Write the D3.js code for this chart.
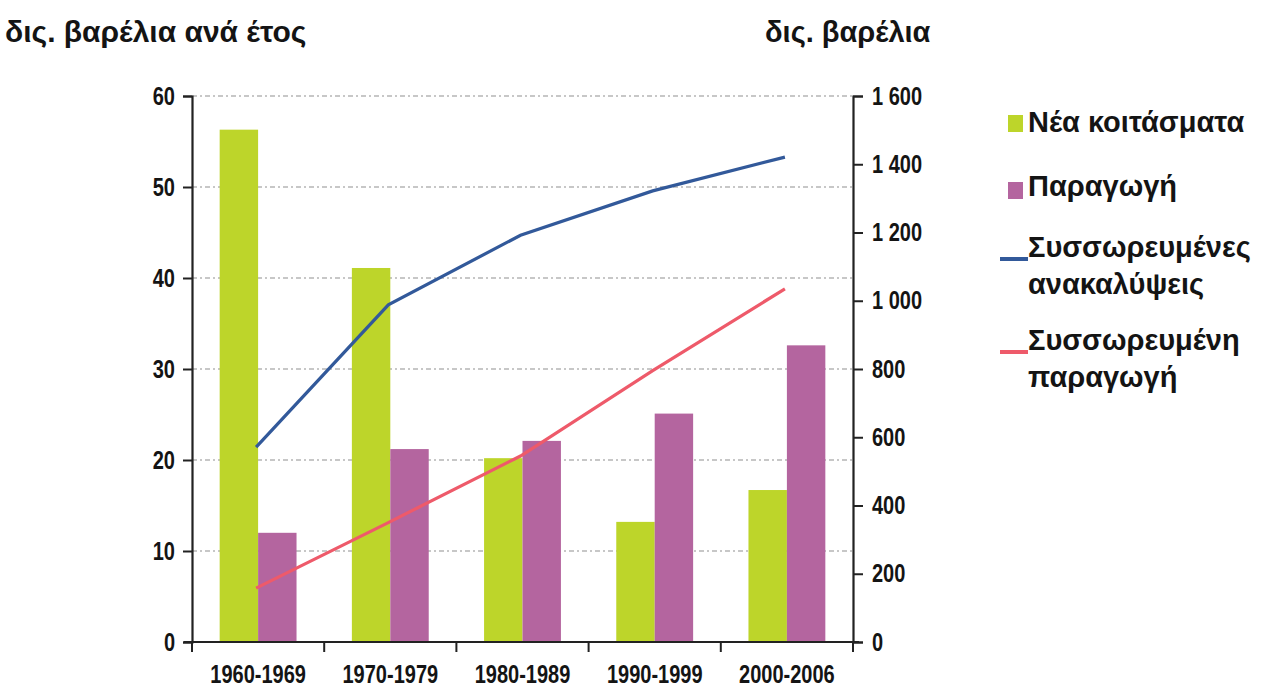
<!DOCTYPE html>
<html>
<head>
<meta charset="utf-8">
<script src="https://cdn.jsdelivr.net/npm/d3@7"></script>
<style>
  body { margin: 0; background: #fff; }
  svg text { font-family: "Liberation Sans", Arial, sans-serif; font-weight: bold; fill: #141414; }
</style>
</head>
<body>
<div id="chart"></div>
<script>
// decades on the x axis
var decades = ["1960-1969", "1970-1979", "1980-1989", "1990-1999", "2000-2006"];
// bars, bn barrels per year (left axis)
var newFields = [56.3, 41.1, 20.2, 13.2, 16.7];
var production = [12.0, 21.2, 22.1, 25.1, 32.6];
// lines, bn barrels (right axis)
var cumDiscoveries = [571, 988, 1192, 1322, 1421];
var cumProduction = [158, 350, 545, 795, 1035];
// ticks
var leftTicks = [0, 10, 20, 30, 40, 50, 60];
var rightTicks = [0, 200, 400, 600, 800, 1000, 1200, 1400, 1600];
var legendLabels = [["Νέα κοιτάσματα"], ["Παραγωγή"], ["Συσσωρευμένες", "ανακαλύψεις"], ["Συσσωρευμένη", "παραγωγή"]];

var margin = { top: 96, left: 192, right: 410, bottom: 49 },
  width = 1263 - margin.left - margin.right,
  height = 691 - margin.top - margin.bottom;

var colors = { green: "#bdd52a", purple: "#b4659f", blue: "#32599a", red: "#ee5a6a" };

// the original uses a narrow face, so squeeze labels sideways
function squeeze(sel, k) {
  sel.each(function() {
    var len = this.getComputedTextLength();
    d3.select(this).attr("textLength", len * k).attr("lengthAdjust", "spacingAndGlyphs");
  });
}

var svgRoot = d3.select("#chart").append("svg")
  .attr("width", 1263)
  .attr("height", 691);

var svg = svgRoot.append("g")
  .attr("transform", "translate(" + margin.left + "," + margin.top + ")");

var x0 = d3.scaleBand().domain(decades).range([0, width]);
var x1 = d3.scaleBand().domain(["new", "prod"]).range([0, x0.bandwidth()]).paddingOuter(0.72);
var yLeft = d3.scaleLinear().domain([0, 60]).range([height, 0]);
var yRight = d3.scaleLinear().domain([0, 1600]).range([height, 0]);

// dashed grid lines
svg.selectAll(".grid")
  .data(leftTicks.filter(function(d) { return d > 0; }))
  .enter().append("line")
    .attr("class", "grid")
    .attr("x1", 0)
    .attr("x2", width)
    .attr("y1", function(d) { return yLeft(d); })
    .attr("y2", function(d) { return yLeft(d); })
    .attr("stroke", "#8f8f8f")
    .attr("stroke-width", 1.2)
    .attr("stroke-dasharray", "5,3,2,3");

// bars
var rows = decades.map(function(d, i) {
  return { decade: d, values: [{ key: "new", v: newFields[i] }, { key: "prod", v: production[i] }] };
});

var groups = svg.selectAll(".decade")
  .data(rows)
  .enter().append("g")
    .attr("class", "decade")
    .attr("transform", function(d) { return "translate(" + x0(d.decade) + ",0)"; });

groups.selectAll("rect")
  .data(function(d) { return d.values; })
  .enter().append("rect")
    .attr("x", function(d) { return x1(d.key); })
    .attr("width", x1.bandwidth())
    .attr("y", function(d) { return yLeft(d.v); })
    .attr("height", function(d) { return height - yLeft(d.v); })
    .attr("fill", function(d) { return d.key == "new" ? colors.green : colors.purple; });

// lines
var line = d3.line()
  .x(function(d, i) { return x0(decades[i]) + x0.bandwidth() * 0.485; })
  .y(function(d) { return yRight(d); });

svg.append("path")
  .datum(cumProduction)
  .attr("d", line)
  .attr("fill", "none")
  .attr("stroke", colors.red)
  .attr("stroke-width", 3.2);

svg.append("path")
  .datum(cumDiscoveries)
  .attr("d", line)
  .attr("fill", "none")
  .attr("stroke", colors.blue)
  .attr("stroke-width", 3.2);

// axes
var leftAxis = d3.axisLeft(yLeft).tickValues(leftTicks).tickSize(9).tickPadding(8);
svg.append("g")
  .attr("class", "axis y-left")
  .call(leftAxis);

var spaceFormat = d3.formatLocale({ decimal: ",", thousands: " ", grouping: [3], currency: ["", ""] }).format(",");
var rightAxis = d3.axisRight(yRight).tickValues(rightTicks).tickSize(10).tickPadding(9).tickFormat(spaceFormat);
svg.append("g")
  .attr("class", "axis y-right")
  .attr("transform", "translate(" + width + ",0)")
  .call(rightAxis);

var bottomAxis = d3.axisBottom(x0).tickSize(0).tickPadding(23);
svg.append("g")
  .attr("class", "axis x-axis")
  .attr("transform", "translate(0," + height + ")")
  .call(bottomAxis);

// tick marks between the decades
svg.selectAll(".xtick")
  .data(decades)
  .enter().append("line")
    .attr("class", "xtick")
    .attr("x1", function(d) { return x0(d); })
    .attr("x2", function(d) { return x0(d); })
    .attr("y1", height)
    .attr("y2", height + 10)
    .attr("stroke", "#222")
    .attr("stroke-width", 2);

// the base line runs a little past both axes
svg.append("line")
  .attr("x1", -8).attr("x2", width + 6)
  .attr("y1", height).attr("y2", height)
  .attr("stroke", "#222").attr("stroke-width", 2.2);
svg.append("line")
  .attr("x1", width).attr("x2", width)
  .attr("y1", height).attr("y2", height + 10)
  .attr("stroke", "#222").attr("stroke-width", 2);

svg.selectAll(".axis path.domain").attr("stroke", "#222").attr("stroke-width", 2.2);
svg.selectAll(".axis .tick line").attr("stroke", "#222").attr("stroke-width", 2);
svg.selectAll(".axis .tick text").style("font-size", "25px").attr("fill", "#202020");
svg.selectAll(".x-axis path.domain").remove();
squeeze(svg.selectAll(".y-left .tick text, .y-right .tick text"), 0.8);
squeeze(svg.selectAll(".x-axis .tick text"), 0.8);

// axis titles
svgRoot.append("text")
  .attr("x", 5).attr("y", 42)
  .style("font-size", "30px")
  .text("δις. βαρέλια ανά έτος");
svgRoot.append("text")
  .attr("x", 765).attr("y", 42)
  .style("font-size", "29px")
  .text("δις. βαρέλια");

// legend
var legend = svgRoot.append("g").attr("transform", "translate(1000,0)");
var legendY = [122, 186, 247, 340];
var legendColors = [colors.green, colors.purple, colors.blue, colors.red];
var lineGap = 37;

legendLabels.forEach(function(lines, i) {
  var g = legend.append("g").attr("transform", "translate(0," + legendY[i] + ")");
  if (i < 2) {
    g.append("rect")
      .attr("x", 8).attr("y", -7 + (i == 1 ? 3 : 0))
      .attr("width", 15).attr("height", 17)
      .attr("fill", legendColors[i]);
  } else {
    g.append("line")
      .attr("x1", 0).attr("x2", 28)
      .attr("y1", 12).attr("y2", 12)
      .attr("stroke", legendColors[i])
      .attr("stroke-width", 4);
  }
  lines.forEach(function(t, j) {
    g.append("text")
      .attr("x", 28)
      .attr("y", j * lineGap)
      .attr("dy", "0.35em")
      .style("font-size", "29px")
      .text(t);
  });
});
</script>
</body>
</html>
